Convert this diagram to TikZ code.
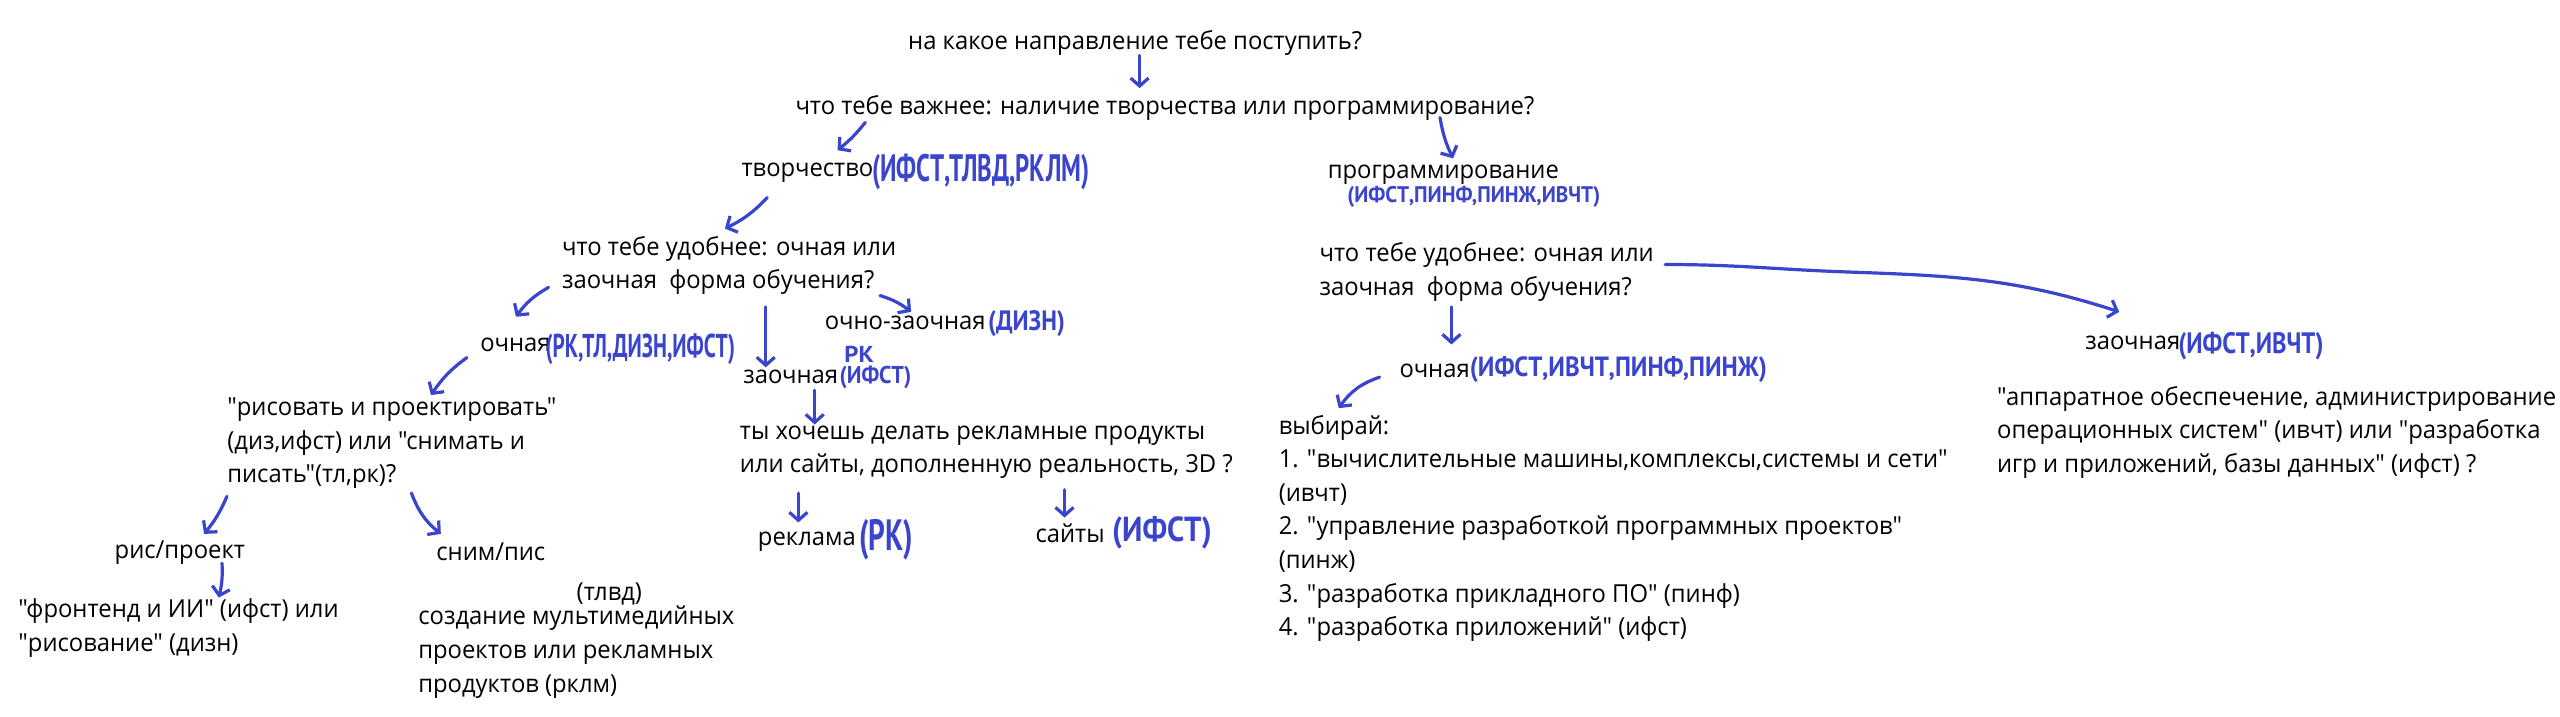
\documentclass[tikz,border=0pt]{standalone}
\usepackage{fontspec}
\usepackage{graphicx}
\setmainfont{Open Sans}[Ligatures=TeXOff,FakeStretch=0.96]
\newfontfamily\handfont{PT Sans}[Ligatures=TeXOff]
\usetikzlibrary{arrows.meta}
\definecolor{pen}{RGB}{58,68,204}
\newdimen\du \du=0.8163pt
\newcommand\hw[3]{\resizebox*{#1\du}{#2\du}{\handfont\bfseries #3}}
\tikzset{
 txt/.style={inner sep=0pt, anchor=north west, align=left, execute at begin node=\strut, font=\fontsize{12.4}{16.8}\selectfont},
 hand/.style={inner sep=0pt, anchor=north west, text=pen},
 arr/.style={draw=pen, line width=1.6pt, line cap=round, line join=round, -{Straight Barb[length=4pt,width=9pt,line width=1.6pt]}}
}
\begin{document}
\begin{tikzpicture}[x=0.8163pt, y=-0.8163pt]
\fill[white] (0,0) rectangle (1568,439);
\useasboundingbox (0,0) rectangle (1568,439);
% texts
\node[txt] (title) at (556,15.4) {на какое направление тебе поступить?};
\node[txt] (q1) at (487,55.4) {что тебе важнее: наличие творчества или программирование?};
\node[txt] (tv) at (454,93.4) {творчество};
\node[hand] (tvh) at (534,94) {\hw{133}{22}{(ИФСТ,ТЛВД,РКЛМ)}};
\node[txt] (pr) at (813,94.4) {программирование};
\node[hand] (prh) at (825,114) {\hw{155}{13}{(ИФСТ,ПИНФ,ПИНЖ,ИВЧТ)}};
\node[txt] (q2l) at (344,144.4) {что тебе удобнее: очная или\\заочная\ \ форма обучения?};
\node[txt] (och) at (294,200.4) {очная};
\node[hand] (ochh) at (334,204) {\hw{116}{19}{(РК,ТЛ,ДИЗН,ИФСТ)}};
\node[txt] (oz) at (505,187.4) {очно-заочная};
\node[hand] (ozh) at (605,190) {\hw{47}{16}{(ДИЗН)}};
\node[txt] (zo) at (455,220.4) {заочная};
\node[hand] (zoh) at (514,224) {\hw{44}{14}{(ИФСТ)}};
\node[hand] (rkh) at (517,212) {\hw{18}{10}{РК}};
\node[txt] (q3) at (453,260.4) {ты хочешь делать рекламные продукты\\или сайты, дополненную реальность, 3D ?};
\node[txt] (rek) at (464,319.4) {реклама};
\node[hand] (rekh) at (526,318) {\hw{33}{25}{(РК)}};
\node[txt] (sai) at (634,317.4) {сайты};
\node[hand] (saih) at (681,316) {\hw{61}{20}{(ИФСТ)}};
\node[txt] (ris) at (139,243.4) {"рисовать и проектировать"\\(диз,ифст) или "снимать и\\писать"(тл,рк)?};
\node[txt] (rp) at (70,327.4) {рис/проект};
\node[txt] (sp) at (267,328.4) {сним/пис};
\node[txt] (front) at (11,366.4) {"фронтенд и ИИ" (ифст) или\\"рисование" (дизн)};
\node[txt] (tlvd) at (353,353) {(тлвд)};
\node[txt] (sozd) at (256,371) {создание мультимедийных\\проектов или рекламных\\продуктов (рклм)};
\node[txt] (q2r) at (808,148.4) {что тебе удобнее: очная или\\заочная\ \ форма обучения?};
\node[txt] (ochr) at (857,216.4) {очная};
\node[hand] (ochrh) at (900,218) {\hw{182}{16}{(ИФСТ,ИВЧТ,ПИНФ,ПИНЖ)}};
\node[txt] (zor) at (1277,199.4) {заочная};
\node[hand] (zorh) at (1334,203) {\hw{89}{17}{(ИФСТ,ИВЧТ)}};
\node[txt] (vyb) at (783,254) {выбирай:\\1. "вычислительные машины,комплексы,системы и сети"\\(ивчт)\\2. "управление разработкой программных проектов"\\(пинж)\\3. "разработка прикладного ПО" (пинф)\\4. "разработка приложений" (ифст)};
\node[txt] (app) at (1223,236.4) {"аппаратное обеспечение, администрирование\\операционных систем" (ивчт) или "разработка\\игр и приложений, базы данных" (ифст) ?};
% arrows
\draw[arr] (title.north west) ++(142,18.6) -- ++(0,20);
\draw[arr] (q1.north west) ++(43,19.6) to[bend left=6] ++(-17,17);
\draw[arr] (q1.north west) ++(395,16.6) to[bend right=8] ++(8,25);
\draw[arr] (tv.north west) ++(16,27.6) to[bend left=10] ++(-26,19);
\draw[arr] (q2l.north west) ++(-8,31.6) to[bend right=12] ++(-20,18);
\draw[arr] (q2l.north west) ++(125,43.6) -- ++(0,37);
\draw[arr] (q2l.north west) ++(195,36.6) to[bend left=10] ++(19,10);
\draw[arr] (och.north west) ++(-8,18.6) to[bend right=10] ++(-22,23);
\draw[arr] (zo.north west) ++(44,18.6) -- ++(0,21);
\draw[arr] (q3.north west) ++(36,41.6) -- ++(0,18);
\draw[arr] (q3.north west) ++(199,39.6) -- ++(0,17);
\draw[arr] (ris.north west) ++(0,60.6) to[bend left=8] ++(-14,23);
\draw[arr] (ris.north west) ++(113,58.6) to[bend right=15] ++(18,25);
\draw[arr] (rp.north west) ++(66,17.6) to[bend left=8] ++(-2,21);
\draw[arr] (q2r.north west) ++(81,39.6) -- ++(0,23);
\draw[arr] (ochr.north west) ++(-12,14.6) to[bend right=18] ++(-25,19);
\draw[arr] (q2r.north west) ++(212,13.6) to[out=0,in=178] ++(112,4.6) to[out=-2,in=162] ++(166,24.4);
\end{tikzpicture}
\end{document}
